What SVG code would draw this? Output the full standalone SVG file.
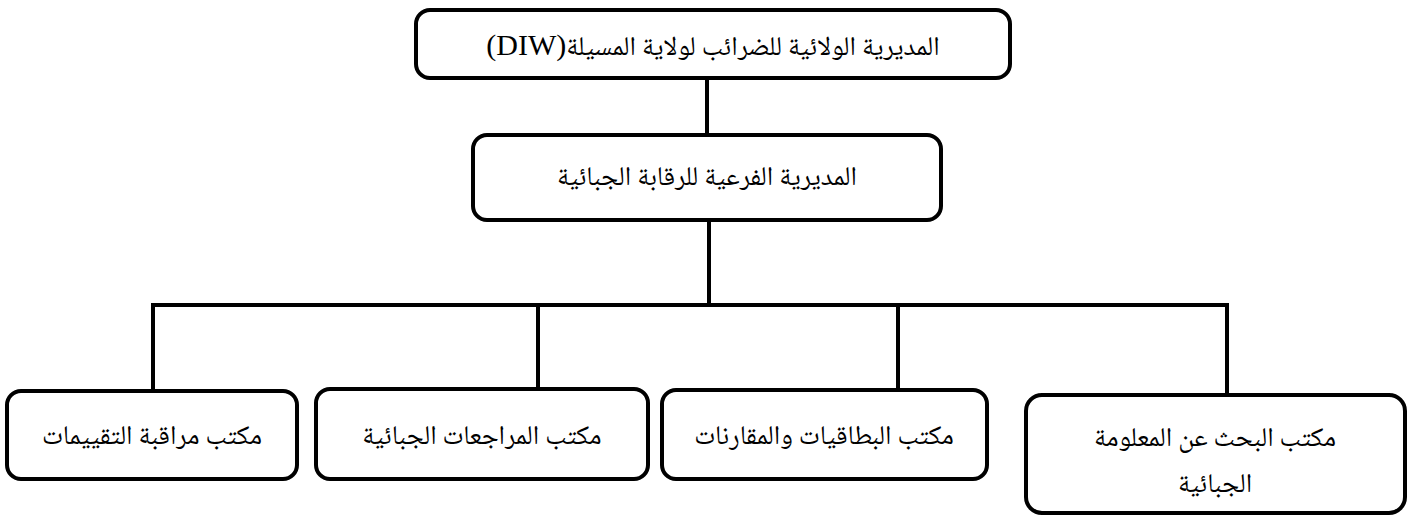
<svg xmlns="http://www.w3.org/2000/svg" width="1414" height="516" viewBox="0 0 1414 516">
<style>
.box{fill:#fff;stroke:#000;stroke-width:4}
.ln{stroke:#000;stroke-width:4;fill:none;stroke-linecap:square}
.t{font-family:"Noto Naskh Arabic","Noto Sans Arabic","DejaVu Sans",sans-serif;font-size:27px;fill:#000;text-anchor:middle;direction:rtl}
.lat{font-family:"Liberation Serif","Times New Roman",serif;font-size:30px}
</style>
<rect width="1414" height="516" fill="#fff"/>
<g id="connectors">
<line class="ln" x1="707" y1="78" x2="707" y2="135"/>
<line class="ln" x1="709" y1="220" x2="709" y2="305"/>
<line class="ln" x1="153" y1="305" x2="1227" y2="305"/>
<line class="ln" x1="153" y1="305" x2="153" y2="391"/>
<line class="ln" x1="538" y1="305" x2="538" y2="389"/>
<line class="ln" x1="898" y1="305" x2="898" y2="390"/>
<line class="ln" x1="1227" y1="305" x2="1227" y2="395"/>
</g>
<g id="n-top">
<rect class="box" x="416" y="10" width="594" height="68" rx="14"/>
<text class="t" x="713" y="55" font-size="28">المديرية الولائية للضرائب لولاية المسيلة<tspan class="lat">(DIW)</tspan></text>
</g>
<g id="n-mid">
<rect class="box" x="473" y="135" width="468" height="85" rx="14"/>
<text class="t" x="707" y="185">المديرية الفرعية للرقابة الجبائية</text>
</g>
<g id="n-b1">
<rect class="box" x="7" y="391" width="290" height="88" rx="14"/>
<text class="t" x="152" y="444">مكتب مراقبة التقييمات</text>
</g>
<g id="n-b2">
<rect class="box" x="316" y="389" width="332" height="90" rx="14"/>
<text class="t" x="482" y="444">مكتب المراجعات الجبائية</text>
</g>
<g id="n-b3">
<rect class="box" x="662" y="390" width="325" height="89" rx="14"/>
<text class="t" x="824" y="444">مكتب البطاقيات والمقارنات</text>
</g>
<g id="n-b4">
<rect class="box" x="1026" y="395" width="379" height="118" rx="16"/>
<text class="t" x="1215" y="446">مكتب البحث عن المعلومة</text>
<text class="t" x="1215" y="492">الجبائية</text>
</g>
</svg>
